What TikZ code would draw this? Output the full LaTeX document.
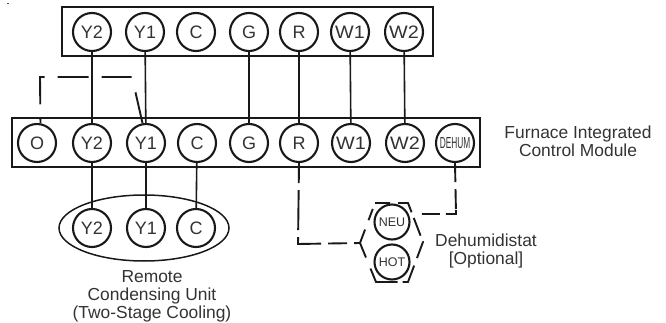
\documentclass[tikz,border=0pt]{standalone}
\usepackage{fontspec}
\setmainfont{Liberation Sans}
\usetikzlibrary{shapes.geometric}
\tikzset{
  term/.style={circle,draw=black!90,fill=white,line width=2.1pt,inner sep=0pt,minimum size=38pt,font=\fontsize{18}{18}\selectfont,text=black!80},
  smallterm/.style={term,minimum size=35pt,font=\fontsize{12.5}{13}\selectfont},
  strip/.style={rectangle,draw=black!90,line width=2.2pt,inner sep=0pt},
  wire/.style={black!90,line width=1.6pt},
  dashwire/.style={black!90,line width=1.9pt,dash pattern=on 19pt off 7pt},
  lbl/.style={align=center,font=\fontsize{17.4}{18}\selectfont,text=black!80}
}
\newcommand{\wterm}[1]{\scalebox{1.1}[1]{#1}}
\begin{document}
\begin{tikzpicture}[x=1pt,y=-1pt]
\useasboundingbox (0,0) rectangle (666,323);

\fill[black!70] (7,3) rectangle (9,4);

% top strip
\node[strip,minimum width=371pt,minimum height=49pt] (topstrip) at (247.5,31.5) {};
\node[term] (tY2) at (92,32) {Y2};
\node[term] (tY1) at (145,32) {Y1};
\node[term] (tC) at (196,32) {C};
\node[term] (tG) at (249,32) {G};
\node[term] (tR) at (299,32) {R};
\node[term] (tW1) at (350,32) {\wterm{W1}};
\node[term] (tW2) at (404,32) {\wterm{W2}};

% control module
\node[strip,minimum width=468pt,minimum height=49pt] (module) at (246,142.5) {};
\node[term] (bO) at (37,143) {O};
\node[term] (bY2) at (92,143) {Y2};
\node[term] (bY1) at (146,143) {Y1};
\node[term] (bC) at (197,143) {C};
\node[term] (bG) at (249,143) {G};
\node[term] (bR) at (299,143) {R};
\node[term] (bW1) at (351,143) {\wterm{W1}};
\node[term] (bW2) at (405,143) {\wterm{W2}};
\node[term] (bD) at (455,143) {\scalebox{0.52}[1]{\fontsize{16}{16}\selectfont DEHUM}};
\node[lbl] (modlabel) at (578,141) {Furnace Integrated\\Control Module};

% wires
\draw[wire] (tY2) -- (bY2);
\draw[wire] (tY1) -- (bY1);
\draw[wire] (tG) -- (bG);
\draw[wire] (tR) -- (bR);
\draw[wire] (tW1) -- (bW1);
\draw[wire] (tW2) -- (bW2);

% jumper
\coordinate (jmpA) at (40,77);
\coordinate (jmpB) at (132,77);
\draw[dashwire,dash pattern=on 6pt off 13pt on 32pt off 13pt on 31pt off 13pt on 30pt off 16pt on 32pt] (bO.80) -- (jmpA) -- (jmpB) -- (bY1.100);

% condensing unit
\node[ellipse,draw=black!90,line width=1.5pt,minimum width=170pt,minimum height=66pt,inner sep=0pt] (unit) at (144,228) {};
\node[term] (rY2) at (92,228) {Y2};
\node[term] (rY1) at (146,228) {Y1};
\node[term] (rC) at (196,228) {C};
\draw[wire] (bY2) -- (rY2);
\draw[wire] (bY1) -- (rY1);
\draw[wire] (bC) -- (rC);
\node[lbl] (unitlabel) at (152,296) {Remote\\Condensing Unit\\(Two-Stage Cooling)};

% dehumidistat
\coordinate (hexA) at (375,203);
\coordinate (hexB) at (408,203);
\coordinate (hexC) at (423,242);
\coordinate (hexD) at (408,282);
\coordinate (hexE) at (376,282);
\coordinate (hexF) at (360,243);
\draw[dashwire,dash pattern=on 15pt off 8pt on 20pt off 6pt on 19pt off 6pt on 18pt off 8pt on 23pt off 5pt on 36pt off 12pt on 30pt off 10pt on 12pt] (hexA) -- (hexB) -- (hexC) -- (hexD) -- (hexE) -- (hexF) -- cycle;
\node[smallterm] (neu) at (392,222) {NEU};
\node[smallterm] (hot) at (392,262) {HOT};
\node[lbl] (dehumlabel) at (486,251) {Dehumidistat\\{[Optional]}};

\coordinate (rcorner) at (298,244);
\coordinate (dcorner) at (456,214);
\draw[dashwire,dash pattern=on 20pt off 7pt on 40pt off 7pt on 30pt off 7pt on 19pt off 7pt on 18pt] (bR.south) -- (rcorner) -- (hexF);
\draw[dashwire,dash pattern=on 19pt off 7pt on 20pt off 1pt on 14pt off 6pt on 18pt] (bD.south) -- (dcorner) -- (neu.east |- dcorner);
\end{tikzpicture}
\end{document}
